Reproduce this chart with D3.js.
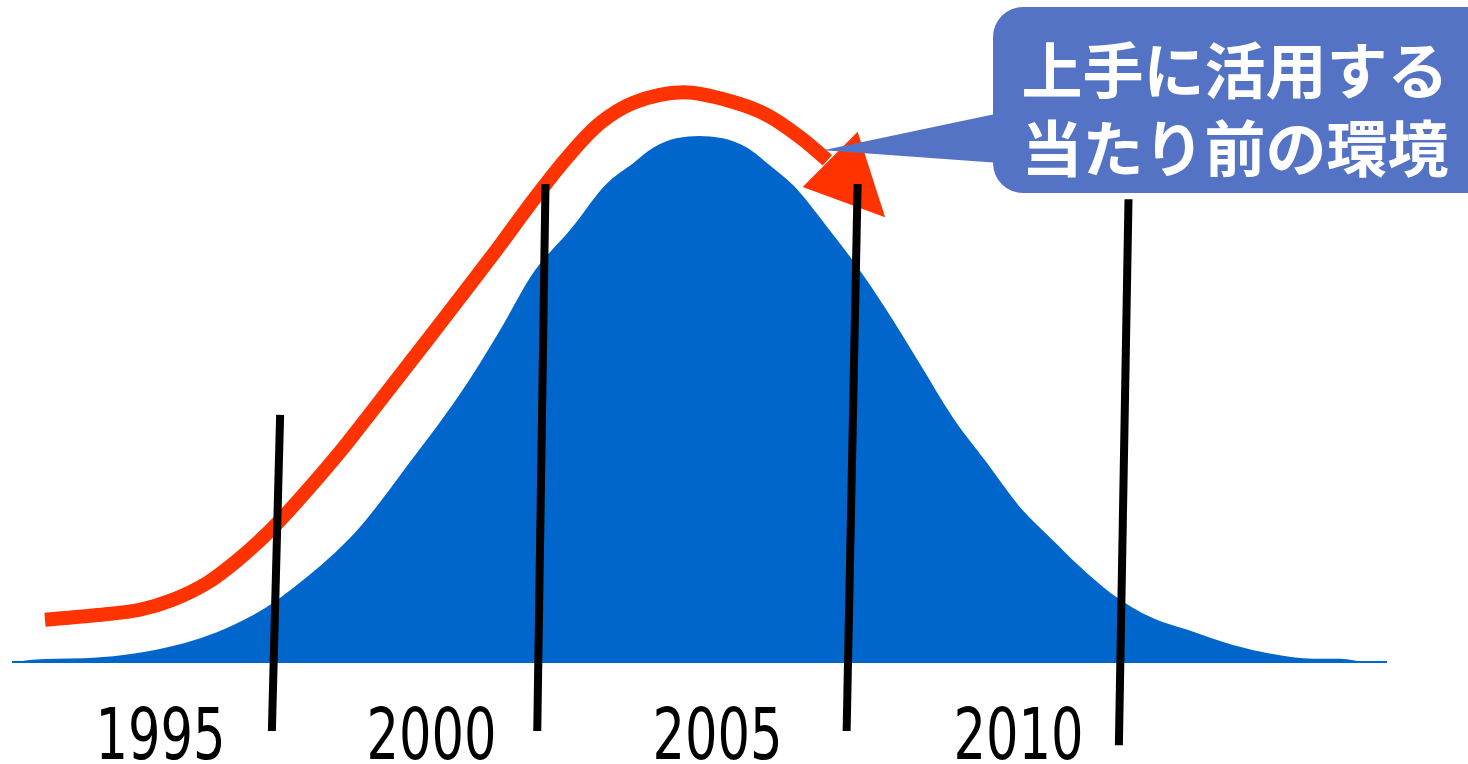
<!DOCTYPE html>
<html><head><meta charset="utf-8">
<script src="https://cdn.jsdelivr.net/npm/d3@7"></script>
<style>html,body{margin:0;padding:0;background:#fff;overflow:hidden}</style>
</head><body>
<svg id="c" width="1468" height="764"></svg>
<script>
// Bell curve (adoption) — t: time index 0..100, v: relative level (peak = 100)
const bellT = [0,1.5,3.3,5.2,8.1,11.3,13.7,16.1,18.5,20.9,25.1,28.9,33.1,35.5,37.9,40.6,43.3,45.2,46.6,48.4,50.0,51.6,53.5,54.9,56.8,59.3,61.5,63.6,66.0,68.4,70.9,73.3,75.7,77.7,79.9,83.0,85.5,88.8,91.7,94.6,96.6,98.5,100];
const bellV = [0,0.6,0.8,0.9,1.5,3.0,4.7,7.2,10.6,15.2,25.2,38.0,53.1,63.2,74.0,82.2,91.1,94.9,97.7,99.6,100,99.6,97.7,94.9,90.7,82.7,75.1,67.0,56.9,46.7,38.0,29.6,23.3,18.2,13.3,8.5,6.3,3.4,1.7,0.8,0.8,0.2,0.2];
// Red trend arrow
const trendT = [2.4,6.2,9.3,11.7,14.2,16.4,18.8,20.9,23.9,25.8,30.6,35.5,37.7,40.4,42.8,45.2,48.8,52.4,54.9,57.3,59.3];
const trendV = [8.2,9.1,10.1,12.0,15.2,19.5,25.2,31.1,40.2,46.5,62.6,79.3,87.1,96.0,102.5,106.3,108.3,106.5,104.0,99.8,95.4];
const arrowTip = [63.5,84.6], arrowBarbA = [57.5,90.3], arrowBarbB = [61.5,100.8];
// Year markers
const yearLabels = ["1995","2000","2005","2010"];
const yearLabelT = [10.8,30.5,51.3,73.2];
const yearTopT = [19.5,38.8,61.5,81.2];
const yearTopV = [47.1,90.9,90.9,88.0];
const yearBotT = [18.9,38.2,60.7,80.5];
const yearBotV = [-12.9,-12.9,-12.9,-15.6];
// Callout
const calloutLines = ["上手に活用する","当たり前の環境"];
const calloutPoint = [59.0,97.3];

const svg = d3.select("#c");
const x = d3.scaleLinear().domain([0,100]).range([12,1387]);
const y = d3.scaleLinear().domain([0,100]).range([663,136]);

const bell = bellT.map((t,i)=>[t,bellV[i]]);
svg.append("path").datum(bell)
  .attr("d", d3.area().x(d=>x(d[0])).y0(y(0)).y1(d=>y(d[1])).curve(d3.curveMonotoneX))
  .attr("fill","#0066CC");
svg.append("line").attr("x1",x(0)).attr("x2",x(100)).attr("y1",y(0)-1).attr("y2",y(0)-1)
  .attr("stroke","#0066CC").attr("stroke-width",2);

const trend = trendT.map((t,i)=>[t,trendV[i]]);
svg.append("path").datum(trend)
  .attr("d", d3.line().x(d=>x(d[0])).y(d=>y(d[1])).curve(d3.curveCatmullRom))
  .attr("fill","none").attr("stroke","#FF3300").attr("stroke-width",14).attr("stroke-linecap","butt");
svg.append("polygon")
  .attr("points",[arrowTip,arrowBarbA,arrowBarbB].map(p=>x(p[0])+","+y(p[1])).join(" "))
  .attr("fill","#FF3300");

yearLabels.forEach((lab,i)=>{
  svg.append("line")
    .attr("x1",x(yearTopT[i])).attr("y1",y(yearTopV[i]))
    .attr("x2",x(yearBotT[i])).attr("y2",y(yearBotV[i]))
    .attr("stroke","#000").attr("stroke-width",8);
  svg.append("text").text(lab)
    .attr("x",x(yearLabelT[i])).attr("y",759)
    .attr("text-anchor","middle")
    .attr("font-family","'Liberation Sans Narrow','DejaVu Sans Condensed','Liberation Sans',sans-serif")
    .attr("font-size",72)
    .attr("textLength",130).attr("lengthAdjust","spacingAndGlyphs")
    .attr("fill","#000");
});

// callout box
const box = {x0:993,y0:7,x1:1500,y1:193};
const cg = svg.append("g");
cg.append("polygon")
  .attr("points",[[x(calloutPoint[0]),y(calloutPoint[1])],[1000,113],[1000,163]].map(p=>p.join(",")).join(" "))
  .attr("fill","#5473C4");
cg.append("rect").attr("x",box.x0).attr("y",box.y0).attr("width",box.x1-box.x0).attr("height",box.y1-box.y0)
  .attr("rx",30).attr("ry",30).attr("fill","#5473C4");
calloutLines.forEach((s,i)=>{
  cg.append("text").text(s)
    .attr("x",1235).attr("y",i===0?67:145)
    .attr("text-anchor","middle").attr("dominant-baseline","central")
    .attr("font-family","'Noto Sans CJK JP',sans-serif").attr("font-weight","bold")
    .attr("font-size",61).attr("fill","#fff");
});
</script>
</body></html>
